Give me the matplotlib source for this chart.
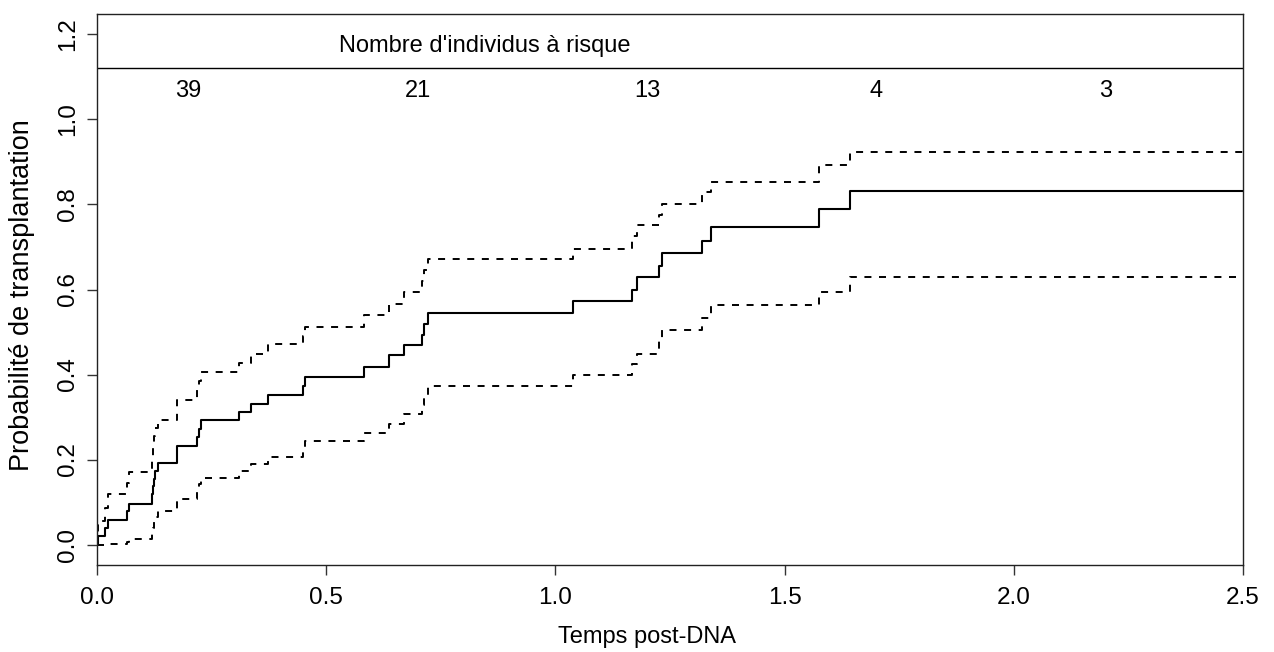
import numpy as np
import matplotlib
matplotlib.use("Agg")
import matplotlib.pyplot as plt
from matplotlib.ticker import FormatStrFormatter

# Cumulative probability of transplantation (1 - KM) with its confidence bounds,
# one value per event time; the last entry just carries the curve to the end.
times = [0.0, 0.002, 0.018, 0.023, 0.065, 0.070, 0.120, 0.122, 0.124, 0.127,
         0.132, 0.175, 0.219, 0.222, 0.226, 0.310, 0.337, 0.374, 0.450, 0.453,
         0.582, 0.637, 0.670, 0.710, 0.713, 0.722, 1.039, 1.168, 1.178, 1.226,
         1.232, 1.319, 1.339, 1.574, 1.643, 2.5]
estimate = [0.0, 0.020, 0.039, 0.059, 0.078, 0.096, 0.118, 0.138, 0.155, 0.172,
            0.192, 0.233, 0.253, 0.272, 0.292, 0.311, 0.331, 0.351, 0.372, 0.394,
            0.418, 0.445, 0.469, 0.494, 0.520, 0.545, 0.573, 0.600, 0.629, 0.656,
            0.686, 0.715, 0.747, 0.790, 0.831, 0.831]
upper = [0.0, 0.055, 0.085, 0.118, 0.145, 0.170, 0.200, 0.230, 0.255, 0.275,
         0.294, 0.339, 0.365, 0.385, 0.405, 0.426, 0.449, 0.471, 0.490, 0.511,
         0.541, 0.567, 0.594, 0.620, 0.645, 0.671, 0.696, 0.725, 0.751, 0.775,
         0.802, 0.829, 0.853, 0.892, 0.924, 0.924]
lower = [0.0, 0.0, 0.001, 0.002, 0.005, 0.013, 0.025, 0.040, 0.052, 0.065,
         0.078, 0.108, 0.125, 0.142, 0.157, 0.173, 0.190, 0.206, 0.225, 0.243,
         0.263, 0.284, 0.306, 0.328, 0.350, 0.372, 0.398, 0.425, 0.449, 0.478,
         0.504, 0.532, 0.563, 0.595, 0.630, 0.630]

# number at risk table shown above the curves
risk_times = [0.2, 0.7, 1.2, 1.7, 2.2]
n_at_risk = [39, 21, 13, 4, 3]

plt.rcParams["font.family"] = ["Liberation Sans", "DejaVu Sans"]

fig = plt.figure(figsize=(12.74, 6.52), dpi=100)
ax = fig.add_axes([97 / 1274, 1 - 565 / 652, 1146 / 1274, 551 / 652])

ax.step(times, estimate, where="post", color="black", lw=1.5)
for band in (upper, lower):
    ax.step(times, band, where="post", color="black", lw=1.4,
            linestyle=(0, (3.6, 3.9)))

ax.axhline(1.12, color="black", lw=1.0)
ax.text(0.845, 1.1725, "Nombre d'individus à risque", ha="center", va="center",
        fontsize=17)
for t, n in zip(risk_times, n_at_risk):
    ax.text(t, 1.068, str(n), ha="center", va="center", fontsize=17)

ax.set_xlim(0, 2.5)
ax.set_ylim(-0.048, 1.248)
ax.set_xticks(np.arange(0, 2.51, 0.5))
ax.set_yticks(np.arange(0, 1.21, 0.2))
ax.xaxis.set_major_formatter(FormatStrFormatter("%.1f"))
ax.yaxis.set_major_formatter(FormatStrFormatter("%.1f"))
ax.tick_params(axis="both", direction="out", length=7.2, width=1.0,
               labelsize=17.5, color="#333333")
ax.tick_params(axis="x", pad=9)
ax.tick_params(axis="y", pad=6, labelrotation=90)
plt.setp(ax.get_yticklabels(), va="center")
for sp in ax.spines.values():
    sp.set_linewidth(1.0)
    sp.set_color("#222222")

ax.set_xlabel("Temps post-DNA", fontsize=17)
ax.xaxis.set_label_coords(0.48, -0.131)
ax.xaxis.label.set_va("center")
ax.set_ylabel("Probabilité de transplantation", fontsize=19.5)
ax.yaxis.set_label_coords(-0.0657, 0.49)
ax.yaxis.label.set_va("center")

fig.savefig("out.png", dpi=100)
